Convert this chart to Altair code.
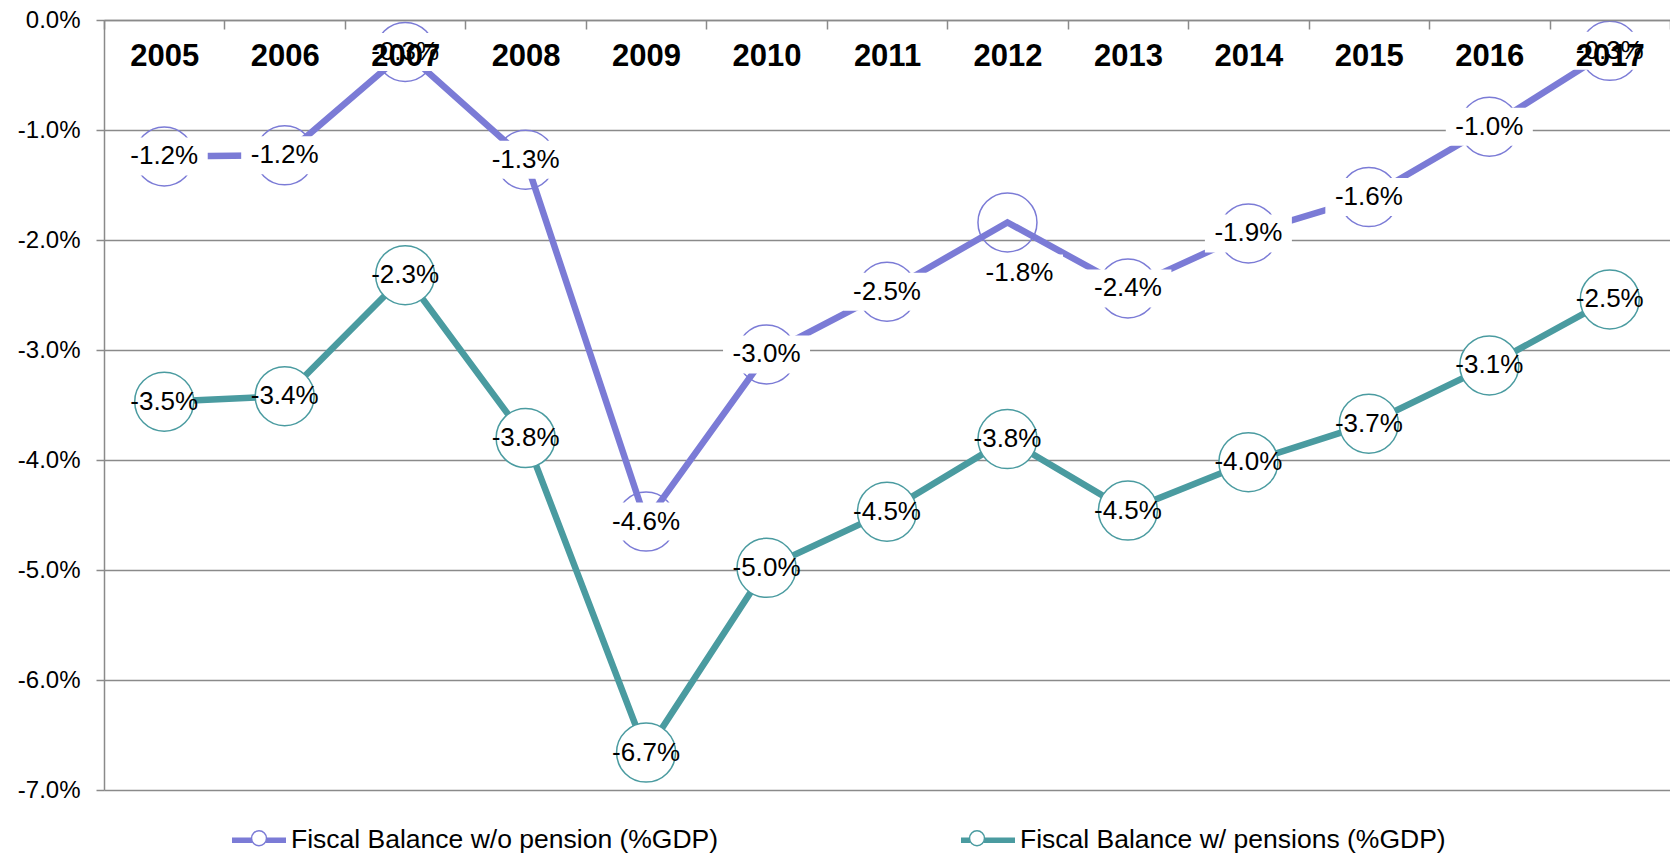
import altair as alt
import pandas as pd

years = [str(y) for y in range(2005, 2018)]
wo_pension = [-1.24, -1.23, -0.29, -1.27, -4.56, -3.04, -2.47, -1.84, -2.44, -1.94, -1.61, -0.97, -0.28]
w_pension = [-3.47, -3.42, -2.32, -3.80, -6.66, -4.98, -4.47, -3.81, -4.46, -4.02, -3.67, -3.14, -2.54]
series_names = ["Fiscal Balance w/o pension (%GDP)", "Fiscal Balance w/ pensions (%GDP)"]
y_ticks = [-7, -6, -5, -4, -3, -2, -1, 0]

colors = ["#7B7BD6", "#4A9BA0"]
grid_col = "#8A8A8A"
FONT = "Liberation Sans"

rows = []
for i, yr in enumerate(years):
    rows.append({"year": yr, "series": series_names[0], "value": wo_pension[i]})
    rows.append({"year": yr, "series": series_names[1], "value": w_pension[i]})
df = pd.DataFrame(rows)

label_expr = "(datum.value < 0 ? '-' : '') + format(abs(datum.value), '.1f') + '%'"

x_enc = alt.X(
    "year:O",
    sort=years,
    scale=alt.Scale(type="band", paddingInner=0, paddingOuter=0),
    bandPosition=0.5,
    axis=alt.Axis(
        orient="bottom", offset=-770, title=None, labelAngle=0,
        labelFont=FONT, labelFontWeight="bold", labelFontSize=31, labelColor="black",
        labelPadding=27, labelBaseline="middle", tickSize=9, tickColor=grid_col, tickWidth=1.5,
        domainColor=grid_col, domainWidth=1.5, tickBand="extent", grid=False, zindex=1,
    ),
)
y_enc = alt.Y(
    "value:Q",
    scale=alt.Scale(domain=[-7, 0], nice=False, zero=False),
    axis=alt.Axis(
        values=y_ticks, labelExpr=label_expr, title=None,
        labelFont=FONT, labelFontSize=24, labelColor="black",
        tickSize=8, labelPadding=16, tickColor=grid_col, tickWidth=1.5,
        domainColor=grid_col, domainWidth=1.5, gridColor=grid_col, gridWidth=1.5, zindex=0,
    ),
)

base = alt.Chart(df).transform_calculate(
    label="(datum.value < 0 ? '-' : '') + format(abs(datum.value), '.1f') + '%'",
    series_pt="datum.series",
)

LEG_X, LEG_Y = 128, 793
LEG_FS = 26.5
COL_PAD = 231

lines = base.mark_line(strokeWidth=6.5).encode(
    x=x_enc, y=y_enc,
    color=alt.Color(
        "series:N", sort=series_names, scale=alt.Scale(range=colors),
        legend=alt.Legend(
            orient="none", legendX=LEG_X, legendY=LEG_Y, direction="horizontal", title=None,
            symbolType="M -1.125 0 L 1.125 0", symbolSize=2304, symbolStrokeWidth=5.5,
            labelFont=FONT, labelFontSize=LEG_FS, labelColor="black", labelOffset=5,
            columnPadding=COL_PAD, labelLimit=0,
        ),
    ),
)

pt_legend = alt.Legend(
    orient="none", legendX=LEG_X + 2, legendY=LEG_Y, direction="horizontal", title=None,
    symbolType="M 0.3125 0 A 0.3125 0.3125 0 1 1 -0.3125 0 A 0.3125 0.3125 0 1 1 0.3125 0 Z",
    symbolSize=2304, symbolStrokeWidth=1.5, symbolFillColor="white",
    labelFont=FONT, labelFontSize=LEG_FS, labelColor="black", labelOffset=9,
    columnPadding=COL_PAD, labelLimit=0, labelOpacity=0,
)

points = base.mark_point(filled=True, size=3481, strokeWidth=1.5, opacity=1).encode(
    x=x_enc, y=y_enc,
    stroke=alt.Stroke("series_pt:N", sort=series_names, scale=alt.Scale(range=colors), legend=pt_legend),
    fill=alt.Fill("series_pt:N", sort=series_names, scale=alt.Scale(range=["transparent", "white"]), legend=pt_legend),
)

box_shape = "M -1.5 -0.655 L 1.5 -0.655 L 1.5 0.655 L -1.5 0.655 Z"
is_p1 = alt.datum.series == series_names[0]
is_below = alt.datum.year == "2012"

boxes = base.transform_filter(is_p1).transform_filter(~is_below).mark_point(
    shape=box_shape, size=3364, filled=True, fill="white", strokeWidth=0, opacity=1
).encode(x=x_enc, y=y_enc)
boxes_below = base.transform_filter(is_p1).transform_filter(is_below).mark_point(
    shape=box_shape, size=3364, filled=True, fill="white", strokeWidth=0, opacity=1,
    xOffset=12, yOffset=51,
).encode(x=x_enc, y=y_enc)

TXT = dict(font=FONT, fontSize=26, color="black", align="center", baseline="middle")
txt_p1 = base.transform_filter(is_p1).transform_filter(~is_below).mark_text(**TXT).encode(
    x=x_enc, y=y_enc, text="label:N")
txt_p1_below = base.transform_filter(is_p1).transform_filter(is_below).mark_text(
    dx=12, dy=51, **TXT).encode(x=x_enc, y=y_enc, text="label:N")
txt_p2 = base.transform_filter(~is_p1).mark_text(**TXT).encode(
    x=x_enc, y=y_enc, text="label:N")

chart = alt.layer(
    lines, points, boxes, boxes_below, txt_p1, txt_p1_below, txt_p2
).properties(
    width=1566, height=770,
    autosize=alt.AutoSizeParams(type="none"),
    padding={"left": 96, "top": 12, "right": 0, "bottom": 66},
).configure_view(stroke=None).configure(background="white")

chart.save("out.html", embed_options={"renderer": "svg", "actions": False})
